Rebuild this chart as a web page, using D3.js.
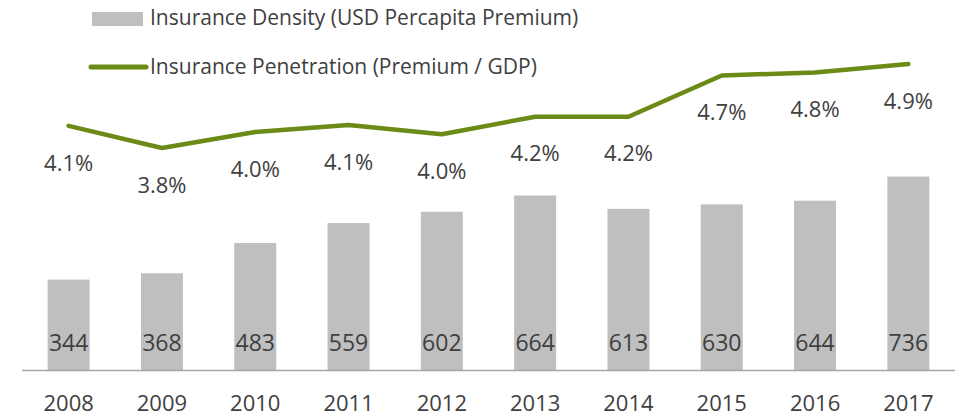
<!DOCTYPE html>
<html>
<head>
<meta charset="utf-8">
<script src="https://cdn.jsdelivr.net/npm/d3@7"></script>
<style>
  body { margin: 0; background: #fff; }
  text { font-family: "Open Sans", sans-serif; fill: #404040; }
</style>
</head>
<body>
<div id="chart"></div>
<script>
const width = 964;
const height = 416;

// chart data
const years = ["2008", "2009", "2010", "2011", "2012", "2013", "2014", "2015", "2016", "2017"];
const density = [344, 368, 483, 559, 602, 664, 613, 630, 644, 736];
const penetration = [4.09, 3.80, 4.01, 4.10, 3.98, 4.21, 4.21, 4.75, 4.79, 4.90];
const penetrationLabels = ["4.1%", "3.8%", "4.0%", "4.1%", "4.0%", "4.2%", "4.2%", "4.7%", "4.8%", "4.9%"];
const legendNames = ["Insurance Density (USD Percapita Premium)", "Insurance Penetration (Premium / GDP)"];

const barColor = "#bfbfbf";
const lineColor = "#6b8a16";

const svg = d3.select("#chart")
  .append("svg")
  .attr("width", width)
  .attr("height", height);

// scales
var xScale = d3.scaleBand()
  .domain(years)
  .range([22, 955])
  .paddingInner(0.55)
  .paddingOuter(0.275);

var yBar = d3.scaleLinear()
  .domain([0, 1400])
  .range([370, 2]);

var yLine = d3.scaleLinear()
  .domain([3.8, 4.9])
  .range([148, 64]);

// bars
svg.selectAll("rect.bar")
  .data(density)
  .enter()
  .append("rect")
  .attr("class", "bar")
  .attr("x", (d, i) => xScale(years[i]))
  .attr("width", xScale.bandwidth())
  .attr("y", d => yBar(d))
  .attr("height", d => yBar(0) - yBar(d))
  .style("fill", barColor);

// bar value labels, sitting near the bottom of each bar
svg.selectAll("text.bar-label")
  .data(density)
  .enter()
  .append("text")
  .attr("class", "bar-label")
  .attr("x", (d, i) => xScale(years[i]) + xScale.bandwidth() / 2)
  .attr("y", yBar(0) - 27)
  .attr("dy", "0.35em")
  .attr("text-anchor", "middle")
  .style("font-size", "23px")
  .text(d => d);

// x axis
var xAxis = d3.axisBottom(xScale).tickSize(0).tickPadding(25);

var gx = svg.append("g")
  .attr("class", "x axis")
  .attr("transform", "translate(0," + yBar(0) + ")")
  .call(xAxis);

gx.select(".domain")
  .attr("d", "M" + xScale.range()[0] + ",0.5H" + xScale.range()[1])
  .style("stroke", "#a6a6a6")
  .style("stroke-width", 1.5);

gx.selectAll("text")
  .style("font-size", "22px")
  .style("font-family", "'Open Sans', sans-serif")
  .style("fill", "#404040");

// penetration line
var line = d3.line()
  .x((d, i) => xScale(years[i]) + xScale.bandwidth() / 2)
  .y(d => yLine(d));

svg.append("path")
  .datum(penetration)
  .attr("d", line)
  .style("fill", "none")
  .style("stroke", lineColor)
  .style("stroke-width", 4.5)
  .style("stroke-linejoin", "round")
  .style("stroke-linecap", "round");

svg.selectAll("text.pen-label")
  .data(penetration)
  .enter()
  .append("text")
  .attr("class", "pen-label")
  .attr("x", (d, i) => xScale(years[i]) + xScale.bandwidth() / 2)
  .attr("y", d => yLine(d) + 37)
  .attr("dy", "0.35em")
  .attr("text-anchor", "middle")
  .style("font-size", "22px")
  .text((d, i) => penetrationLabels[i]);

// legend
var legend = svg.append("g").attr("class", "legend");

legend.append("rect")
  .attr("x", 92)
  .attr("y", 12)
  .attr("width", 51)
  .attr("height", 14)
  .style("fill", barColor);

legend.append("line")
  .attr("x1", 91)
  .attr("x2", 146)
  .attr("y1", 67)
  .attr("y2", 67)
  .style("stroke", lineColor)
  .style("stroke-width", 5)
  .style("stroke-linecap", "round");

legend.selectAll("text")
  .data(legendNames)
  .enter()
  .append("text")
  .attr("x", 150)
  .attr("y", (d, i) => 18 + i * 49)
  .attr("dy", "0.35em")
  .style("font-size", "21px")
  .text(d => d);
</script>
</body>
</html>
